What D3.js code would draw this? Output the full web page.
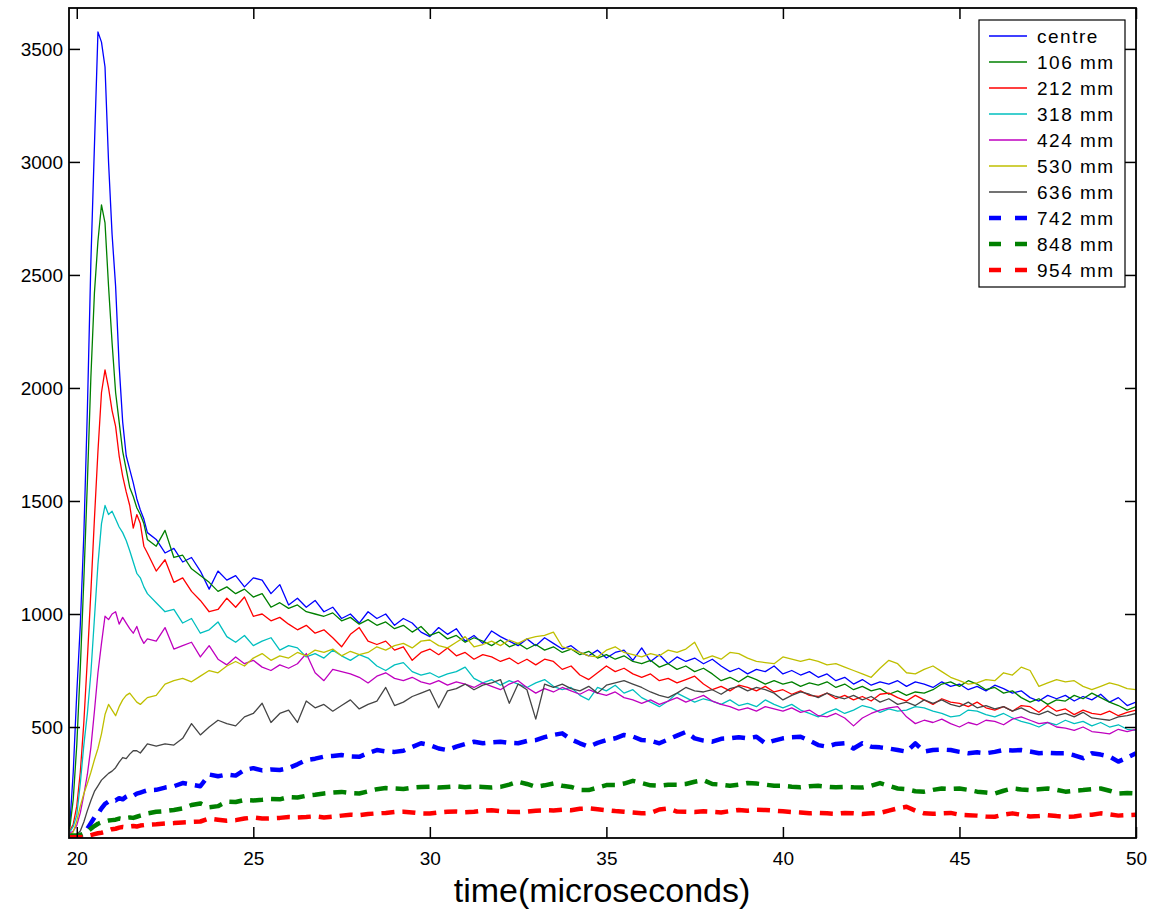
<!DOCTYPE html>
<html>
<head>
<meta charset="utf-8">
<script src="https://cdn.jsdelivr.net/npm/d3@7"></script>
<style>
  body { margin: 0; background: #fff; }
  svg { display: block; font-family: "Liberation Sans", Arial, sans-serif; }
</style>
</head>
<body>
<svg id="chart"></svg>
<script>
// sample times (microseconds): 0.1 steps through the peak, then 0.25 steps
const fineTimes = d3.range(198, 221).map(d => d / 10);
const coarseTimes = d3.range(1, 113).map(k => 22 + k * 0.25);
const times = fineTimes.concat(coarseTimes);

const labels = ["centre", "106 mm", "212 mm", "318 mm", "424 mm",
                "530 mm", "636 mm", "742 mm", "848 mm", "954 mm"];

// values, one per sample time
const centre = [60, 300, 650, 950, 1350, 1900, 2560, 3070, 3575, 3530, 3420, 3000, 2680, 2450, 2100, 1850, 1700, 1640, 1580, 1510, 1460, 1420, 1360,
  1330, 1270, 1290, 1230, 1250, 1190, 1110, 1190, 1150, 1170, 1120, 1160, 1150, 1090, 1130, 1040, 1070, 1030, 1060, 1010,
  1030, 980, 1000, 960, 1010, 980, 1000, 950, 980, 960, 920, 900, 940, 910, 935, 880, 905, 870, 925, 900,
  880, 860, 890, 860, 895, 870, 845, 860, 830, 815, 840, 805, 830, 840, 795, 850, 790, 820, 780, 810,
  790, 805, 780, 800, 770, 745, 760, 735, 755, 745, 770, 735, 750, 730, 745, 720, 735, 705, 720, 690,
  710, 685, 700, 690, 705, 680, 700, 690, 675, 700, 680, 690, 665, 680, 660, 685, 670, 650, 660, 630,
  615, 640, 625, 640, 615, 635, 620, 645, 610, 630, 595, 610];
const mm106 = [50, 180, 420, 760, 1150, 1580, 2050, 2420, 2650, 2810, 2730, 2450, 2200, 1980, 1850, 1720, 1640, 1560, 1520, 1470, 1440, 1400, 1330,
  1300, 1370, 1250, 1260, 1200, 1170, 1140, 1100, 1120, 1090, 1110, 1075, 1090, 1030, 1050, 1025, 1040, 1010, 1000, 990,
  1005, 970, 985, 955, 975, 950, 965, 935, 950, 920, 945, 905, 920, 890, 905, 875, 895, 880, 860, 885,
  855, 870, 845, 865, 840, 855, 830, 845, 820, 835, 805, 820, 800, 815, 790, 780, 795, 765, 780, 755,
  770, 745, 760, 735, 705, 720, 700, 725, 710, 690, 705, 690, 700, 680, 695, 685, 700, 675, 690, 665,
  680, 660, 670, 645, 660, 640, 655, 650, 665, 690, 700, 680, 705, 690, 665, 675, 650, 660, 630, 610,
  625, 600, 620, 615, 640, 625, 650, 630, 610, 595, 575, 590];
const mm212 = [40, 70, 150, 300, 520, 800, 1100, 1420, 1720, 1980, 2080, 2000, 1900, 1830, 1700, 1610, 1540, 1480, 1380, 1440, 1400, 1300, 1270,
  1190, 1240, 1140, 1160, 1100, 1060, 1010, 1020, 1070, 1030, 1075, 990, 1000, 970, 985, 955, 930, 950, 915, 930,
  895, 855, 910, 940, 880, 865, 880, 840, 855, 795, 830, 845, 820, 850, 815, 830, 800, 820, 810, 790,
  805, 780, 800, 775, 800, 790, 755, 770, 730, 710, 740, 770, 745, 760, 735, 720, 735, 705, 715, 695,
  710, 725, 690, 665, 680, 660, 685, 675, 660, 680, 655, 665, 645, 660, 640, 635, 650, 625, 640, 620,
  635, 615, 645, 650, 630, 615, 640, 620, 600, 625, 610, 605, 590, 610, 585, 575, 590, 570, 595, 590,
  565, 595, 570, 580, 555, 575, 560, 555, 570, 550, 565, 575];
const mm318 = [35, 60, 110, 250, 420, 560, 740, 980, 1220, 1400, 1480, 1440, 1455, 1420, 1385, 1360, 1325, 1280, 1230, 1180, 1160, 1120, 1090,
  1050, 1010, 1020, 960, 980, 915, 930, 965, 900, 875, 905, 860, 880, 895, 840, 860, 850, 810, 825, 805,
  840, 815, 795, 820, 805, 770, 750, 775, 785, 745, 730, 740, 720, 735, 745, 765, 715, 695, 710, 685,
  705, 690, 675, 695, 710, 680, 665, 675, 640, 620, 675, 660, 685, 650, 665, 630, 610, 590, 615, 650,
  630, 610, 625, 615, 600, 620, 595, 605, 590, 620, 600, 585, 600, 575, 560, 545, 565, 580, 560, 575,
  595, 585, 565, 580, 570, 575, 590, 585, 570, 560, 545, 550, 575, 570, 555, 545, 560, 540, 525, 515,
  500, 520, 510, 530, 515, 525, 505, 520, 500, 510, 490, 485];
const mm424 = [30, 40, 65, 120, 200, 290, 410, 570, 740, 870, 990, 975, 1000, 1010, 955, 985, 960, 935, 915, 945, 900, 870, 890,
  880, 940, 845, 860, 875, 810, 860, 800, 775, 810, 780, 795, 765, 750, 775, 760, 780, 825, 740, 705,
  755, 745, 735, 720, 695, 725, 740, 715, 705, 720, 700, 690, 705, 685, 700, 690, 675, 695, 680, 665,
  690, 705, 675, 650, 670, 655, 675, 660, 645, 665, 650, 640, 655, 630, 620, 605, 620, 600, 615, 630,
  610, 625, 640, 615, 600, 590, 575, 585, 570, 590, 580, 570, 585, 565, 575, 550, 545, 560, 540, 505,
  540, 560, 575, 585, 590, 545, 515, 530, 520, 535, 515, 500, 520, 510, 530, 525, 510, 535, 545, 530,
  515, 520, 500, 495, 485, 500, 480, 475, 470, 490, 480, 490];
const mm530 = [20, 35, 85, 150, 205, 250, 300, 355, 405, 470, 555, 600, 575, 550, 590, 620, 640, 650, 630, 610, 600, 615, 630,
  640, 690, 705, 715, 700, 725, 750, 740, 770, 790, 770, 805, 825, 795, 815, 805, 830, 815, 840, 830,
  845, 815, 835, 820, 830, 855, 840, 860, 870, 850, 880, 885, 860, 850, 875, 900, 855, 865, 880, 860,
  885, 870, 890, 900, 905, 920, 855, 845, 830, 815, 810, 840, 855, 830, 820, 810, 825, 815, 840, 830,
  845, 875, 800, 815, 800, 830, 825, 805, 790, 785, 780, 810, 800, 790, 800, 790, 775, 780, 765, 750,
  735, 720, 760, 795, 780, 740, 735, 755, 770, 745, 720, 705, 690, 695, 710, 705, 740, 730, 765, 750,
  680, 695, 710, 700, 705, 680, 665, 680, 695, 685, 670, 665];
const mm636 = [15, 20, 25, 40, 80, 130, 175, 215, 240, 265, 280, 295, 305, 320, 345, 365, 360, 380, 395, 395, 385, 405, 425,
  415, 425, 420, 450, 515, 465, 500, 530, 515, 505, 545, 560, 605, 520, 560, 575, 520, 615, 585, 600,
  570, 595, 620, 580, 600, 615, 675, 595, 610, 635, 650, 665, 585, 660, 670, 690, 665, 685, 695, 710,
  605, 690, 665, 535, 690, 675, 690, 670, 660, 680, 650, 685, 695, 705, 690, 675, 655, 640, 630, 650,
  675, 660, 655, 665, 645, 670, 680, 660, 675, 665, 650, 620, 640, 655, 645, 630, 650, 635, 625, 640,
  620, 635, 610, 625, 600, 610, 595, 620, 605, 620, 600, 590, 610, 585, 595, 580, 590, 570, 585, 565,
  555, 570, 550, 560, 545, 565, 540, 535, 530, 545, 550, 560];
const mm742 = [15, 15, 15, 20, 30, 50, 75, 100, 115, 140, 160, 170, 178, 175, 185, 180, 192, 200, 195, 205, 210, 215, 220,
  222, 232, 238, 252, 245, 238, 290, 282, 290, 285, 310, 318, 308, 312, 310, 318, 335, 354, 360, 369,
  372, 376, 370, 368, 385, 398, 392, 390, 395, 412, 428, 420, 405, 398, 413, 425, 435, 428, 432, 435,
  430, 428, 438, 442, 455, 465, 472, 445, 428, 413, 430, 442, 450, 465, 458, 442, 440, 428, 445, 462,
  478, 450, 440, 435, 448, 450, 455, 450, 457, 428, 440, 450, 455, 457, 440, 420, 413, 425, 428, 405,
  428, 413, 410, 405, 398, 391, 428, 391, 398, 400, 398, 390, 384, 388, 384, 390, 398, 396, 398, 392,
  384, 386, 384, 384, 375, 362, 384, 378, 369, 347, 365, 384];
const mm848 = [20, 20, 20, 22, 28, 38, 50, 62, 72, 78, 82, 86, 88, 90, 95, 92, 98, 100, 98, 103, 108, 112, 118,
  125, 128, 133, 140, 155, 162, 145, 150, 170, 168, 177, 175, 178, 182, 180, 190, 188, 196, 200, 206,
  210, 213, 208, 206, 215, 225, 230, 228, 226, 232, 235, 236, 232, 235, 238, 234, 236, 235, 232, 235,
  245, 258, 248, 235, 242, 250, 240, 235, 222, 221, 232, 243, 243, 250, 262, 252, 242, 240, 245, 245,
  248, 258, 265, 248, 245, 240, 245, 252, 250, 245, 240, 240, 236, 233, 238, 240, 236, 233, 235, 233,
  232, 240, 252, 240, 228, 225, 216, 214, 222, 228, 226, 228, 222, 214, 210, 206, 218, 228, 224, 221,
  225, 228, 222, 214, 218, 221, 225, 228, 218, 206, 208, 206];
const mm954 = [12, 12, 12, 12, 14, 18, 22, 26, 30, 32, 36, 42, 48, 50, 55, 58, 56, 60, 62, 60, 64, 66, 68,
  70, 73, 75, 78, 80, 82, 95, 90, 85, 88, 95, 100, 95, 96, 98, 102, 100, 102, 105, 100,
  103, 108, 112, 110, 115, 118, 120, 124, 125, 122, 118, 117, 122, 125, 126, 123, 125, 130, 132, 128,
  125, 124, 126, 130, 132, 131, 134, 132, 138, 140, 136, 132, 128, 125, 122, 118, 120, 135, 140, 126,
  125, 124, 127, 125, 122, 128, 133, 130, 134, 133, 130, 127, 124, 122, 118, 120, 118, 116, 120, 118,
  115, 118, 120, 130, 140, 147, 130, 118, 116, 118, 120, 112, 110, 108, 104, 103, 112, 118, 112, 104,
  106, 110, 106, 103, 104, 110, 112, 118, 114, 108, 110, 112];

const xTicks = [20, 25, 30, 35, 40, 45, 50];
const yTicks = [500, 1000, 1500, 2000, 2500, 3000, 3500];

const allSeries = [centre, mm106, mm212, mm318, mm424, mm530, mm636, mm742, mm848, mm954];

// styles, in the same order as labels
const colors = ["#0000ff", "#008000", "#ff0000", "#00bfbf", "#bf00bf",
                "#bfbf00", "#454545", "#0000ff", "#008000", "#ff0000"];
const dashed = [false, false, false, false, false, false, false, true, true, true];

const w = 1149;
const h = 913;
const plotLeft = 69, plotRight = 1136, plotTop = 8, plotBottom = 838;

const xScale = d3.scaleLinear().domain([19.78, 50]).range([plotLeft, plotRight]);
const yScale = d3.scaleLinear().domain([9, 3681]).range([plotBottom, plotTop]);

const svg = d3.select("#chart")
  .attr("width", w)
  .attr("height", h);

svg.append("rect")
  .attr("width", w).attr("height", h)
  .attr("fill", "#fff");

svg.append("clipPath")
  .attr("id", "plot-clip")
  .append("rect")
  .attr("x", plotLeft).attr("y", plotTop)
  .attr("width", plotRight - plotLeft).attr("height", plotBottom - plotTop);

const line = d3.line()
  .x((d, i) => xScale(times[i]))
  .y(d => yScale(d));

const plot = svg.append("g").attr("clip-path", "url(#plot-clip)");

allSeries.forEach((values, i) => {
  plot.append("path")
    .datum(values)
    .attr("fill", "none")
    .attr("stroke", colors[i])
    .attr("stroke-width", dashed[i] ? 4.5 : 1.3)
    .attr("stroke-dasharray", dashed[i] ? "13,8" : null)
    .attr("stroke-linejoin", "round")
    .attr("d", line);
});

// axes: ticks point inward on all four sides
function styleAxis(g) {
  g.select(".domain").remove();
  g.selectAll(".tick line").attr("stroke", "#000").attr("stroke-width", 1.5);
  g.selectAll(".tick text").attr("fill", "#000").style("font-size", "19px");
}

svg.append("g")
  .attr("transform", `translate(0, ${plotBottom})`)
  .call(d3.axisBottom(xScale).tickValues(xTicks).tickSize(-11).tickPadding(14).tickFormat(d3.format("d")))
  .call(styleAxis);

svg.append("g")
  .attr("transform", `translate(0, ${plotTop})`)
  .call(d3.axisTop(xScale).tickValues(xTicks).tickSize(-11).tickFormat(""))
  .call(styleAxis);

svg.append("g")
  .attr("transform", `translate(${plotLeft}, 0)`)
  .call(d3.axisLeft(yScale).tickValues(yTicks).tickSize(-11).tickPadding(6).tickFormat(d3.format("d")))
  .call(styleAxis);

svg.append("g")
  .attr("transform", `translate(${plotRight}, 0)`)
  .call(d3.axisRight(yScale).tickValues(yTicks).tickSize(-11).tickFormat(""))
  .call(styleAxis);

svg.append("rect")
  .attr("x", plotLeft).attr("y", plotTop)
  .attr("width", plotRight - plotLeft).attr("height", plotBottom - plotTop)
  .attr("fill", "none")
  .attr("stroke", "#000")
  .attr("stroke-width", 1.8);

svg.append("text")
  .attr("x", 602)
  .attr("y", 902)
  .attr("text-anchor", "middle")
  .style("font-size", "34px")
  .text("time(microseconds)");

// legend
const legend = svg.append("g");
legend.append("rect")
  .attr("x", 979).attr("y", 20)
  .attr("width", 146).attr("height", 267)
  .attr("fill", "#fff")
  .attr("stroke", "#000")
  .attr("stroke-width", 1.2);

labels.forEach((name, i) => {
  const ly = 36 + i * 26;
  legend.append("line")
    .attr("x1", 989).attr("x2", 1027)
    .attr("y1", ly).attr("y2", ly)
    .attr("stroke", colors[i])
    .attr("stroke-width", dashed[i] ? 4.5 : 1.3)
    .attr("stroke-dasharray", dashed[i] ? "12,14" : null);
  legend.append("text")
    .attr("x", 1037)
    .attr("y", ly)
    .attr("dy", "0.35em")
    .style("font-size", "19px")
    .style("letter-spacing", "1.5px")
    .text(name);
});
</script>
</body>
</html>
